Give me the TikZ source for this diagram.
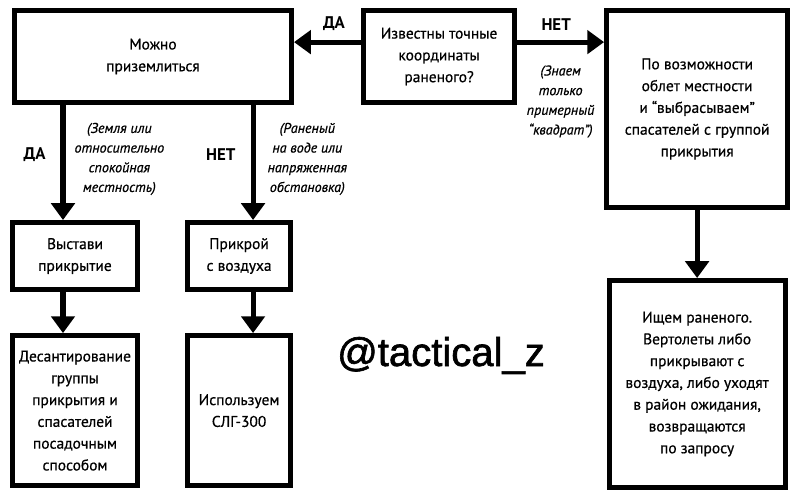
\documentclass[tikz,border=0pt]{standalone}
\usepackage{fontspec}
\setmainfont{PT Sans}[UprightFeatures={FakeBold=0.6}, ItalicFeatures={FakeBold=0.6}]
\newfontfamily\tagfont{Liberation Sans}[FakeBold=1.6]
\usetikzlibrary{arrows.meta, positioning}

\begin{document}
\begin{tikzpicture}[
      node distance=1cm,
      block/.style={draw, line width=3.6pt, align=center, inner sep=2pt, font=\fontsize{11}{15.5}\selectfont},
      arrow/.style={-{Triangle[length=0.42cm, width=0.58cm]}, line width=3.6pt},
      answer/.style={inner sep=0pt, font=\bfseries\fontsize{12}{14}\selectfont},
      note/.style={inner sep=0pt, align=center, font=\itshape\fontsize{10}{14}\selectfont}
    ]

    \useasboundingbox (-3.825,1.4125) rectangle (16.175,-10.9875);

    % Nodes
    \node[block, minimum width=6.925cm, minimum height=2.3cm] (land) {Можно\\приземлиться};
    \node[block, minimum width=3.775cm, minimum height=2.3cm, right=1.675cm of land] (coords) {Известны точные\\координаты\\раненого?};
    \node[block, minimum width=4.525cm, minimum height=4.925cm, right=2.175cm of coords.north east, anchor=north west] (fly) {По возможности\\облет местности\\и “выбрасываем”\\спасателей с группой\\прикрытия};
    \node[block, minimum width=4.4cm, minimum height=5.175cm, below=1.7cm of fly] (search) {Ищем раненого.\\Вертолеты либо\\прикрывают с\\воздуха, либо уходят\\в район ожидания,\\возвращаются\\по запросу};

    % Landing branches
    \node[block, minimum width=3.125cm, minimum height=1.675cm, below=2.875cm of land.south west, anchor=north west, xshift=-0.05cm] (cover) {Выстави\\прикрытие};
    \node[block, minimum width=3.125cm, minimum height=3.75cm, below=1.025cm of cover] (drop) {Десантирование\\группы\\прикрытия и\\спасателей\\посадочным\\способом};
    \node[block, minimum width=2.575cm, minimum height=1.675cm, right=1.125cm of cover] (air) {Прикрой\\с воздуха};
    \node[block, minimum width=2.575cm, minimum height=3.75cm, below=1.025cm of air] (slg) {Используем\\СЛГ-300};

    \node[anchor=base, inner sep=0pt, font=\tagfont\fontsize{28.5}{30}\selectfont] (tag) at (7.2,-7.7375) {@tactical\_z};

    % Connections
    \draw[arrow] ([yshift=0.36cm]coords.west) -- node[answer, above=0.225cm, xshift=0.16cm] {ДА} ([yshift=0.36cm]coords.west -| land.east);
    \draw[arrow] ([yshift=0.36cm]coords.east) -- node[answer, above=0.225cm, xshift=-0.11cm] {НЕТ} node[note, below=0.52cm] {(Знаем\\только\\примерный\\“квадрат”)} ([yshift=0.36cm]coords.east -| fly.west);

    \draw[arrow] ([xshift=-0.3cm]cover.north |- land.south) -- node[answer, left=0.375cm, yshift=0.21cm] {ДА} node[note, right=0.225cm, yshift=0.09cm] {(Земля или\\относительно\\спокойная\\местность)} ([xshift=-0.3cm]cover.north);
    \draw[arrow] ([xshift=0.35cm]air.north |- land.south) -- node[answer, left=0.375cm, yshift=0.21cm] {НЕТ} node[note, right=0.3cm, yshift=0.09cm] {(Раненый\\на воде или\\напряженная\\обстановка)} ([xshift=0.35cm]air.north);

    \draw[arrow] ([xshift=-0.3cm]cover.south) -- ([xshift=-0.3cm]drop.north);
    \draw[arrow] ([xshift=0.35cm]air.south) -- ([xshift=0.35cm]slg.north);
    \draw[arrow] (fly.south) -- (search.north);

  \end{tikzpicture}
\end{document}
